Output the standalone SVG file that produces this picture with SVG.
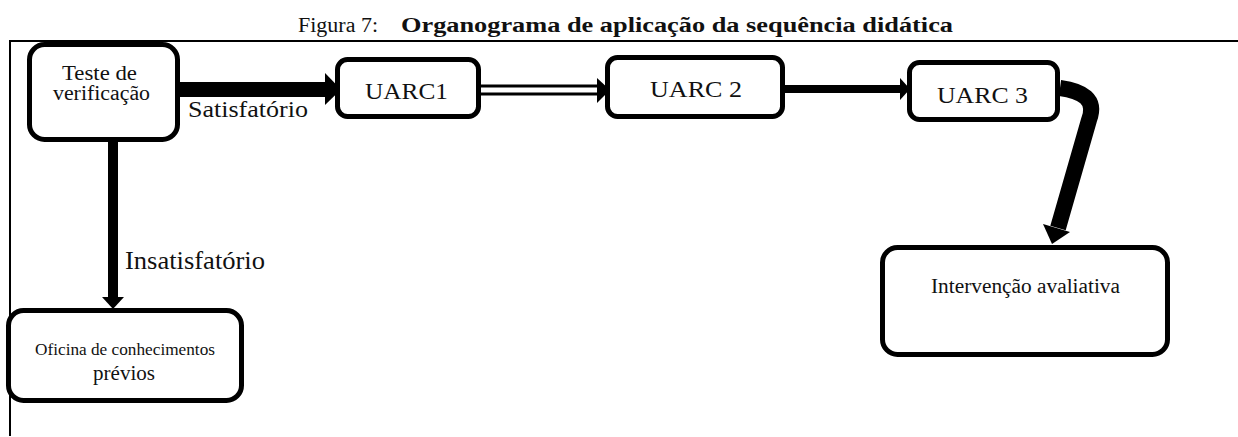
<svg xmlns="http://www.w3.org/2000/svg" width="1238" height="437" viewBox="0 0 1238 437">
<style>
.box{fill:#fff;stroke:#000;stroke-width:5}
.t{font-family:"Liberation Serif","Times New Roman",serif;fill:#111}
</style>
<rect width="1238" height="437" fill="#fff"/>
<g id="title">
<text class="t" x="298" y="32" font-size="20" textLength="80" lengthAdjust="spacingAndGlyphs">Figura 7:</text>
<text class="t" x="401" y="32" font-size="20" font-weight="bold" textLength="552" lengthAdjust="spacingAndGlyphs">Organograma de aplicação da sequência didática</text>
</g>
<g id="frame" stroke="#000" stroke-width="2">
<line x1="10" y1="41" x2="1238" y2="41"/>
<line x1="10" y1="40" x2="10" y2="436"/>
</g>
<g id="connectors">
<rect x="180" y="82" width="146" height="15" fill="#000"/>
<polygon points="325,73 341,89.5 325,105" fill="#000"/>
<rect x="480" y="84.5" width="118" height="3" fill="#000"/>
<rect x="480" y="92.5" width="118" height="3" fill="#000"/>
<polygon points="597,78 610,90 597,103" fill="#000"/>
<rect x="785" y="85" width="116" height="8" fill="#000"/>
<polygon points="900,78 910,89 900,100" fill="#000"/>
<path d="M1060,88 C1082,91 1097,99 1089,120 L1058,228" fill="none" stroke="#000" stroke-width="16"/>
<polygon points="1070,232 1043,224 1052,244" fill="#000"/>
<rect x="108" y="140" width="10" height="158" fill="#000"/>
<polygon points="102,297 124,297 113,309" fill="#000"/>
</g>
<g id="n-teste">
<rect class="box" x="29.5" y="44.5" width="148" height="95" rx="15"/>
<text class="t" x="62" y="80" font-size="20" textLength="75" lengthAdjust="spacingAndGlyphs">Teste de</text>
<text class="t" x="53" y="100" font-size="20" textLength="97" lengthAdjust="spacingAndGlyphs">verificação</text>
</g>
<g id="lbl-satisf">
<text class="t" x="188" y="117" font-size="24" textLength="120" lengthAdjust="spacingAndGlyphs">Satisfatório</text>
</g>
<g id="n-uarc1">
<rect class="box" x="337.5" y="59.5" width="141" height="57" rx="10"/>
<text class="t" x="365" y="99" font-size="24" textLength="83" lengthAdjust="spacingAndGlyphs">UARC1</text>
</g>
<g id="n-uarc2">
<rect class="box" x="607.5" y="57.5" width="175" height="59" rx="10"/>
<text class="t" x="650" y="97" font-size="24" textLength="92" lengthAdjust="spacingAndGlyphs">UARC 2</text>
</g>
<g id="n-uarc3">
<rect class="box" x="909.5" y="62.5" width="148" height="57" rx="10"/>
<text class="t" x="937" y="103" font-size="24" textLength="91" lengthAdjust="spacingAndGlyphs">UARC 3</text>
</g>
<g id="n-interv">
<rect class="box" x="882.5" y="247.5" width="285" height="107" rx="15"/>
<text class="t" x="931" y="293" font-size="20" textLength="189" lengthAdjust="spacingAndGlyphs">Intervenção avaliativa</text>
</g>
<g id="lbl-insat">
<text class="t" x="125" y="269" font-size="25" textLength="140" lengthAdjust="spacingAndGlyphs">Insatisfatório</text>
</g>
<g id="n-oficina">
<rect class="box" x="8.5" y="310.5" width="233" height="90" rx="15"/>
<text class="t" x="35" y="355" font-size="17" textLength="180" lengthAdjust="spacingAndGlyphs">Oficina de conhecimentos</text>
<text class="t" x="93" y="380" font-size="20" textLength="62" lengthAdjust="spacingAndGlyphs">prévios</text>
</g>
</svg>
